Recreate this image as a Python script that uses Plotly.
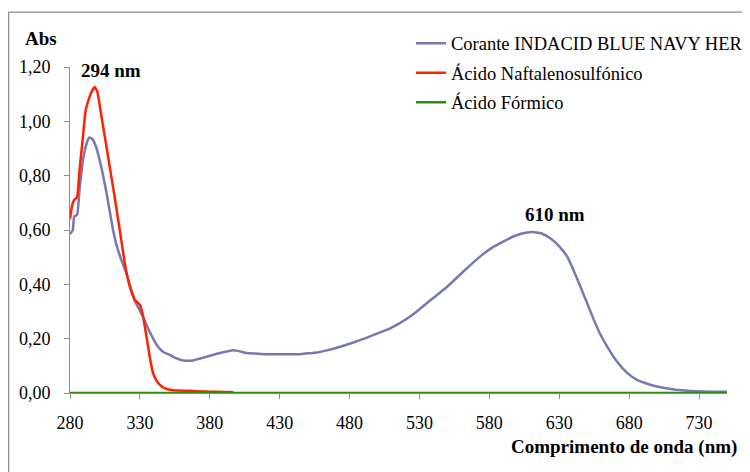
import plotly.graph_objects as go

# ---- data ----
dye_x = [280, 282, 283, 285, 287, 290, 293.6, 296, 299, 302, 306, 310.8, 313, 316, 320.4, 326.3,
         332.3, 337, 343, 347, 351.4, 356, 361, 368, 374, 380, 388, 396.8, 400, 406, 413, 420.7,
         432, 444.5, 450, 456.5, 462, 468.4, 475, 482.7, 492, 501.8, 509, 516.2, 522, 528.1,
         538, 549.6, 562, 573.5, 582, 590.2, 598, 606.9, 612, 617, 623.6, 630, 635.6, 640,
         645.1, 650, 654.7, 659, 664.3, 671, 678.6, 685, 692.9, 700, 709.6, 718, 728.7, 740, 750]
dye_y = [0.585, 0.60, 0.65, 0.655, 0.76, 0.88, 0.94, 0.935, 0.90, 0.84, 0.74, 0.60, 0.55, 0.50,
         0.44, 0.34, 0.28, 0.225, 0.17, 0.15, 0.14, 0.128, 0.12, 0.12, 0.128, 0.137, 0.148,
         0.157, 0.155, 0.147, 0.145, 0.143, 0.143, 0.143, 0.146, 0.149, 0.155, 0.163, 0.173,
         0.186, 0.203, 0.223, 0.238, 0.258, 0.277, 0.30, 0.342, 0.39, 0.45, 0.503, 0.535,
         0.558, 0.578, 0.591, 0.592, 0.588, 0.570, 0.540, 0.503, 0.455, 0.392, 0.33, 0.27,
         0.22, 0.171, 0.118, 0.074, 0.05, 0.034, 0.024, 0.015, 0.010, 0.006, 0.005, 0.005]

naft_x = [280, 281.5, 283, 285, 287, 289, 291.2, 294, 296, 297.7, 299.5, 302.5, 305, 308.4,
          312, 315.6, 319.2, 322.7, 326.3, 328.5, 329.9, 331, 332.3, 334, 335.9, 337.5, 339.4,
          341.5, 344.2, 347.5, 351.4, 357, 365.7, 370, 380, 390, 396.8]
naft_y = [0.64, 0.69, 0.711, 0.72, 0.83, 0.93, 1.04, 1.09, 1.115, 1.126, 1.11, 1.018, 0.94,
          0.834, 0.72, 0.60, 0.478, 0.392, 0.343, 0.333, 0.325, 0.31, 0.282, 0.23, 0.171,
          0.12, 0.074, 0.048, 0.031, 0.018, 0.012, 0.009, 0.008, 0.006, 0.005, 0.004, 0.003]

form_x = [280, 400, 500, 600, 700, 750]
form_y = [0.0, 0.0, 0.0, 0.0, 0.0, 0.0]

series_names = ["Corante INDACID BLUE NAVY HER", "Ácido Naftalenosulfónico", "Ácido Fórmico"]
x_ticks = [280, 330, 380, 430, 480, 530, 580, 630, 680, 730]
y_ticks = [0.0, 0.2, 0.4, 0.6, 0.8, 1.0, 1.2]
y_tick_labels = ["0,00", "0,20", "0,40", "0,60", "0,80", "1,00", "1,20"]

FONT = "Liberation Serif"

fig = go.Figure()
fig.add_trace(go.Scatter(x=dye_x, y=dye_y, mode="lines", name=series_names[0],
                         line=dict(color="#7878b2", width=2.5, shape="spline", smoothing=0.5),
                         legendgroup="a"))
fig.add_trace(go.Scatter(x=naft_x, y=naft_y, mode="lines", name=series_names[1],
                         line=dict(color="#ff2200", width=2.5, shape="spline", smoothing=0.4),
                         legendgroup="b"))
fig.add_trace(go.Scatter(x=form_x, y=form_y, mode="lines", name=series_names[2],
                         line=dict(color="#2f8a12", width=2.5), legendgroup="c"))

# the page body adds an 8px offset, so the figure is 8px smaller and shifted
fig.update_layout(
    width=742, height=464,
    margin=dict(l=62, r=23, t=59, b=79, autoexpand=False),
    paper_bgcolor="white", plot_bgcolor="white",
    font=dict(family=FONT, size=18, color="black"),
    showlegend=True,
    legend=dict(x=0.519, y=1.13, xanchor="left", yanchor="top",
                bgcolor="rgba(0,0,0,0)", font=dict(family=FONT, size=18.5, color="black"),
                traceorder="grouped", tracegroupgap=2.5, itemwidth=30),
    xaxis=dict(range=[280, 750], tickvals=x_ticks, ticktext=[str(v) for v in x_ticks],
               showgrid=False, zeroline=False, showline=True, linecolor="#8c8c8c",
               linewidth=1, ticks="outside", ticklen=5, tickcolor="#8c8c8c",
               ticklabelstandoff=8, tickfont=dict(family=FONT, size=18, color="black")),
    yaxis=dict(range=[0, 1.2], tickvals=y_ticks, ticktext=y_tick_labels,
               showgrid=False, zeroline=False, showline=True, linecolor="#8c8c8c",
               linewidth=1, ticks="outside", ticklen=5, tickcolor="#8c8c8c",
               ticklabelstandoff=10, tickfont=dict(family=FONT, size=18, color="black")),
    shapes=[dict(type="rect", xref="paper", yref="paper",
                 x0=-0.0934, x1=1.3, y0=-0.5, y1=1.1686,
                 line=dict(color="#8c8c8c", width=1.2), fillcolor="rgba(0,0,0,0)",
                 layer="below")],
    annotations=[
        dict(text="<b>Abs</b>", xref="paper", yref="paper", x=-0.0445, y=1.087,
             showarrow=False, font=dict(family=FONT, size=19, color="black"),
             xanchor="center", yanchor="middle"),
        dict(text="<b>294 nm</b>", xref="x", yref="y", x=309.5, y=1.186,
             showarrow=False, font=dict(family=FONT, size=19, color="black"),
             xanchor="center", yanchor="middle"),
        dict(text="<b>610 nm</b>", xref="x", yref="y", x=627, y=0.656,
             showarrow=False, font=dict(family=FONT, size=19, color="black"),
             xanchor="center", yanchor="middle"),
        dict(text="<b>Comprimento de onda (nm)</b>", xref="paper", yref="paper",
             x=0.843, y=-0.167, showarrow=False,
             font=dict(family=FONT, size=19, color="black"),
             xanchor="center", yanchor="middle"),
    ],
)

fig.write_html("out.html")
